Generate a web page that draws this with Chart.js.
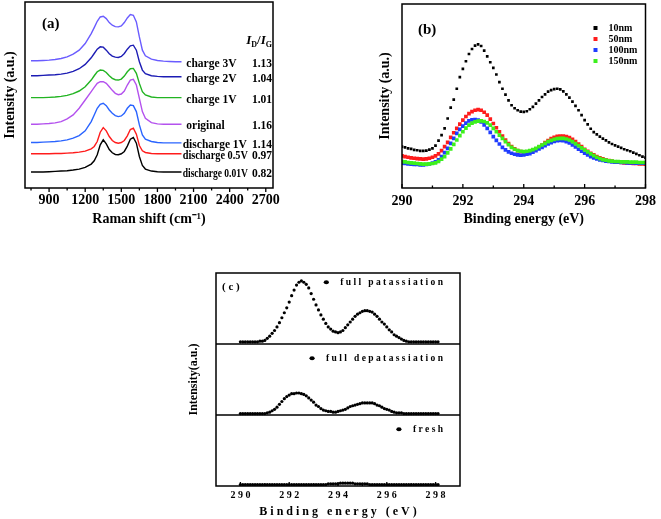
<!DOCTYPE html>
<html>
<head>
<meta charset="utf-8">
<script src="https://cdn.jsdelivr.net/npm/chart.js@4.4.1/dist/chart.umd.min.js"></script>
<style>
  body { margin: 0; background: #fff; }
  canvas { position: absolute; }
</style>
</head>
<body>
<canvas id="chartA" width="330" height="250" style="left:0px;top:0px"></canvas>
<canvas id="chartB" width="331" height="250" style="left:330px;top:0px"></canvas>
<canvas id="chartC" width="300" height="269" style="left:180px;top:250px"></canvas>
<script>
// ---- (a) Raman spectra, curves stacked top to bottom ----
const ramanShift = [750, 800, 850, 900, 950, 1000, 1050, 1100, 1150, 1200, 1250,
  1275, 1300, 1325, 1350, 1375, 1400, 1425, 1450, 1475, 1500, 1525, 1550, 1575, 1600, 1625, 1650, 1675, 1700,
  1750, 1800, 1850, 1900, 1950, 2000];
const ramanTicks = [900, 1200, 1500, 1800, 2100, 2400, 2700];
const stateNames = ['charge 3V', 'charge 2V', 'charge 1V', 'original', 'discharge 1V', 'discharge 0.5V', 'discharge 0.01V'];
const idIg = ['1.13', '1.04', '1.01', '1.16', '1.14', '0.97', '0.82'];

const charge3V = [383, 383, 384, 385, 387, 390, 395, 403, 415, 435, 465,
  483, 502, 515, 517, 510, 498, 490, 486, 485, 488, 498, 512, 522, 520, 500, 455, 415, 398,
  388, 384, 382, 381, 380, 380];
const charge2V = [338, 338, 339, 340, 341, 343, 346, 351, 359, 372, 392,
  405, 418, 425, 424, 415, 404, 397, 394, 393, 396, 405, 418, 428, 430, 415, 380, 355, 344,
  338, 336, 335, 335, 335, 335];
const charge1V = [272, 272, 272, 273, 274, 276, 279, 284, 292, 305, 325,
  338, 350, 355, 354, 348, 338, 330, 326, 325, 328, 337, 350, 359, 360, 345, 315, 290, 280,
  274, 272, 272, 272, 272, 272];
const original = [192, 192, 193, 194, 196, 200, 208, 220, 240, 265, 290,
  303, 315, 320, 320, 315, 305, 294, 285, 281, 283, 292, 310, 325, 327, 310, 270, 230, 210,
  197, 193, 192, 192, 192, 192];
const discharge1V = [137, 137, 138, 139, 140, 142, 145, 150, 158, 172, 200,
  220, 240, 252, 255, 248, 235, 225, 218, 215, 217, 225, 240, 250, 248, 230, 190, 160, 147,
  140, 137, 136, 136, 136, 136];
const discharge05V = [103, 103, 103, 103, 104, 104, 105, 106, 108, 111, 118,
  125, 140, 168, 182, 172, 155, 143, 137, 135, 137, 143, 157, 176, 180, 162, 128, 112, 107,
  104, 103, 103, 103, 103, 103];
const discharge001V = [48, 48, 48, 49, 50, 51, 52, 54, 57, 62, 72,
  82, 100, 130, 145, 133, 116, 106, 101, 100, 103, 110, 126, 147, 152, 135, 95, 68, 57,
  51, 49, 48, 48, 48, 48];
const ramanSeries = [charge3V, charge2V, charge1V, original, discharge1V, discharge05V, discharge001V];
const ramanColors = ['#6a5cff', '#1c1cb4', '#22b422', '#b452ee', '#2a64ff', '#ff1c1c', '#000000'];
const labelStart = [2040, 2040, 2040, 2040, 2010, 2010, 2010];

// ---- (b) C 1s XPS, four thicknesses ----
const energyB = [290.0, 290.1, 290.2, 290.3, 290.4, 290.5, 290.6, 290.7, 290.8, 290.9,
  291.0, 291.1, 291.2, 291.3, 291.4, 291.5, 291.6, 291.7, 291.8, 291.9,
  292.0, 292.1, 292.2, 292.3, 292.4, 292.5, 292.6, 292.7, 292.8, 292.9,
  293.0, 293.1, 293.2, 293.3, 293.4, 293.5, 293.6, 293.7, 293.8, 293.9,
  294.0, 294.1, 294.2, 294.3, 294.4, 294.5, 294.6, 294.7, 294.8, 294.9,
  295.0, 295.1, 295.2, 295.3, 295.4, 295.5, 295.6, 295.7, 295.8, 295.9,
  296.0, 296.1, 296.2, 296.3, 296.4, 296.5, 296.6, 296.7, 296.8, 296.9,
  297.0, 297.1, 297.2, 297.3, 297.4, 297.5, 297.6, 297.7, 297.8, 297.9,
  298.0];
const energyTicks = [290, 292, 294, 296, 298];
const sizeNames = ['10nm', '50nm', '100nm', '150nm'];
const nm10 = [125, 123, 120, 118, 115, 114, 112, 112, 113, 116,
  120, 128, 143, 160, 180, 210, 243, 267, 300, 335,
  360, 383, 405, 420, 430, 434, 429, 415, 398, 380,
  363, 343, 320, 300, 282, 265, 250, 241, 235, 231,
  230, 232, 238, 245, 255, 265, 275, 283, 291, 296,
  299, 300, 298, 292, 283, 273, 261, 248, 235, 220,
  205, 192, 179, 169, 162, 155, 149, 144, 138, 133,
  129, 125, 121, 117, 114, 111, 107, 103, 99, 95,
  92];
const nm50 = [97, 95, 93, 91, 90, 89, 88, 87, 88, 90,
  93, 97, 103, 113, 125, 138, 153, 167, 180, 193,
  205, 216, 225, 231, 235, 237, 235, 229, 220, 208,
  195, 182, 170, 157, 145, 134, 125, 118, 113, 110,
  108, 108, 110, 114, 118, 124, 130, 137, 143, 149,
  153, 156, 157, 157, 155, 152, 147, 140, 133, 125,
  117, 111, 105, 100, 95, 91, 88, 85, 83, 81,
  79, 78, 77, 76, 76, 75, 74, 74, 73, 73,
  72];
const nm100 = [75, 74, 73, 72, 71, 71, 70, 70, 71, 73,
  75, 79, 85, 95, 107, 120, 135, 150, 165, 177,
  187, 196, 203, 206, 207, 205, 200, 191, 180, 168,
  155, 144, 133, 123, 115, 109, 105, 102, 100, 99,
  100, 102, 104, 108, 113, 118, 123, 128, 133, 137,
  141, 143, 144, 143, 140, 136, 130, 124, 117, 111,
  105, 100, 95, 91, 88, 85, 83, 81, 80, 79,
  78, 78, 77, 77, 76, 76, 76, 75, 75, 75,
  75];
const nm150 = [80, 79, 77, 76, 75, 74, 73, 72, 72, 73,
  74, 76, 80, 87, 95, 106, 118, 132, 145, 158,
  170, 181, 190, 196, 200, 202, 203, 201, 197, 190,
  180, 170, 160, 150, 140, 131, 123, 117, 113, 111,
  110, 111, 113, 116, 120, 125, 130, 135, 140, 144,
  147, 149, 150, 150, 148, 145, 140, 134, 128, 121,
  115, 109, 103, 98, 93, 89, 86, 84, 82, 81,
  80, 80, 79, 79, 79, 78, 78, 78, 77, 77,
  77];
const sizeSeries = [nm10, nm50, nm100, nm150];
const sizeColors = ['#000000', '#ff1c1c', '#1f3cff', '#3cf01c'];

// ---- (c) C 1s XPS, three states, each panel 0..100 ----
const energyC = [290.0, 290.1, 290.2, 290.3, 290.4, 290.5, 290.6, 290.7, 290.8, 290.9,
  291.0, 291.1, 291.2, 291.3, 291.4, 291.5, 291.6, 291.7, 291.8, 291.9,
  292.0, 292.1, 292.2, 292.3, 292.4, 292.5, 292.6, 292.7, 292.8, 292.9,
  293.0, 293.1, 293.2, 293.3, 293.4, 293.5, 293.6, 293.7, 293.8, 293.9,
  294.0, 294.1, 294.2, 294.3, 294.4, 294.5, 294.6, 294.7, 294.8, 294.9,
  295.0, 295.1, 295.2, 295.3, 295.4, 295.5, 295.6, 295.7, 295.8, 295.9,
  296.0, 296.1, 296.2, 296.3, 296.4, 296.5, 296.6, 296.7, 296.8, 296.9,
  297.0, 297.1, 297.2, 297.3, 297.4, 297.5, 297.6, 297.7, 297.8, 297.9,
  298.0, 298.1];
const phaseNames = ['full patassiation', 'full depatassiation', 'fresh'];
const fullPot = [3, 3, 3, 3, 3, 3, 3, 3, 4, 4,
  5, 8, 11, 15, 19, 24, 30, 37, 44, 51,
  59, 68, 76, 83, 87, 89, 87, 84, 79, 71,
  63, 55, 48, 41, 35, 29, 24, 21, 18, 17,
  16, 17, 19, 23, 27, 31, 35, 39, 42, 44,
  46, 47, 47, 46, 45, 42, 39, 35, 31, 28,
  24, 20, 17, 13, 11, 9, 7, 5, 4, 3,
  3, 3, 3, 3, 3, 3, 3, 3, 3, 3, 3, 3];
const fullDepot = [2, 2, 2, 2, 2, 2, 2, 2, 2, 2,
  2, 3, 4, 6, 8, 11, 15, 19, 23, 26,
  28, 30, 30, 31, 31, 30, 29, 27, 24, 21,
  18, 14, 12, 9, 7, 6, 5, 5, 4, 4,
  5, 6, 7, 8, 10, 12, 13, 14, 15, 16,
  17, 17, 17, 17, 17, 16, 14, 13, 11, 9,
  8, 7, 5, 4, 3, 3, 3, 2, 2, 2,
  2, 2, 2, 2, 2, 2, 2, 2, 2, 2, 2, 2];
const fresh = [2, 2, 2, 2, 2, 2, 2, 2, 2, 2,
  2, 2, 2, 2, 2, 2, 2, 2, 2, 2,
  2, 2, 2, 2, 2, 2, 2, 2, 2, 2,
  2, 2, 2, 2, 2, 2, 3, 3, 3, 3,
  3, 4, 4, 4, 4, 4, 4, 3, 3, 3,
  3, 3, 3, 2, 2, 2, 2, 2, 2, 2,
  2, 2, 2, 2, 2, 2, 2, 2, 2, 2,
  2, 2, 2, 2, 2, 2, 2, 2, 2, 2, 2, 2];
const phaseSeries = [fullPot, fullDepot, fresh];
const panelBase = [200, 100, 0];

const SERIF = '"Liberation Serif", "Times New Roman", serif';
Chart.defaults.font.family = SERIF;
Chart.defaults.font.weight = 'bold';
Chart.defaults.color = '#000';
Chart.defaults.animation = false;

const spaced = s => s.split('').join(' ');

function pairs(xs, ys, base) {
  return ys.map((v, i) => ({ x: xs[i], y: v + (base || 0) }));
}

// box round the plot area, tick marks, panel dividers
const framePlugin = {
  id: 'frame',
  afterDatasetsDraw(chart, args, opts) {
    const { ctx, chartArea: a } = chart;
    const x = chart.scales.x, y = chart.scales.y;
    ctx.save();
    ctx.strokeStyle = '#000';
    ctx.lineWidth = 1.5;
    ctx.strokeRect(a.left, a.top, a.right - a.left, a.bottom - a.top);
    ctx.lineWidth = 1.3;
    ctx.beginPath();
    (opts.major || []).forEach(v => {
      const px = x.getPixelForValue(v);
      ctx.moveTo(px, a.bottom); ctx.lineTo(px, a.bottom + opts.dir * 4);
    });
    (opts.minor || []).forEach(v => {
      const px = x.getPixelForValue(v);
      ctx.moveTo(px, a.bottom); ctx.lineTo(px, a.bottom + opts.dir * 2.5);
    });
    (opts.dividers || []).forEach(v => {
      const py = y.getPixelForValue(v);
      ctx.moveTo(a.left, py); ctx.lineTo(a.right, py);
    });
    ctx.stroke();
    ctx.restore();
  }
};

function xScale(min, max, ticks, font, fmt, title, titleFont, pad) {
  return {
    type: 'linear', min: min, max: max,
    afterBuildTicks: s => { s.ticks = ticks.map(v => ({ value: v })); },
    afterFit: s => { s.height = pad.h; },
    grid: { display: false, drawTicks: false },
    border: { display: false },
    ticks: { font: font, padding: pad.tick, maxRotation: 0, autoSkip: false, callback: fmt },
    title: { display: true, text: title, font: titleFont, padding: { top: 0, bottom: pad.title } }
  };
}

function yScale(min, max, width, title, titleFont, padTop) {
  return {
    type: 'linear', min: min, max: max,
    afterFit: s => { s.width = width; },
    grid: { display: false, drawTicks: false },
    border: { display: false },
    ticks: { display: false },
    title: { display: true, text: title, font: titleFont, padding: { top: padTop, bottom: 0 } }
  };
}

// (a)
const ramanText = {
  id: 'ramanText',
  afterDatasetsDraw(chart) {
    const { ctx, chartArea: a } = chart;
    const x = chart.scales.x, y = chart.scales.y;
    ctx.save();
    ctx.fillStyle = '#000';
    ctx.textBaseline = 'middle';
    ctx.font = 'bold 11.5px ' + SERIF;
    stateNames.forEach((name, i) => {
      const ys = ramanSeries[i];
      const py = y.getPixelForValue(ys[ys.length - 1]) + 2;
      const right = a.right - 1;
      ctx.textAlign = 'right';
      ctx.fillText(idIg[i], right, py);
      const numLeft = right - ctx.measureText(idIg[i]).width;
      const lx = x.getPixelForValue(labelStart[i]);
      ctx.textAlign = 'left';
      ctx.fillText(name, lx, py, numLeft - 4 - lx);
    });
    // I_D / I_G header
    ctx.textAlign = 'left';
    ctx.textBaseline = 'alphabetic';
    const parts = [['I', 'italic bold 13px', 0], ['D', 'bold 8px', 3], ['/', 'bold 13px', 0],
                   ['I', 'italic bold 13px', 0], ['G', 'bold 8px', 3]];
    let w = 0;
    parts.forEach(p => { ctx.font = p[1] + ' ' + SERIF; w += ctx.measureText(p[0]).width; });
    let px = a.right - 1 - w;
    parts.forEach(p => {
      ctx.font = p[1] + ' ' + SERIF;
      ctx.fillText(p[0], px, 44 + p[2]);
      px += ctx.measureText(p[0]).width;
    });
    ctx.font = 'bold 15px ' + SERIF;
    ctx.fillText('(a)', 42, 28);
    ctx.restore();
  }
};

new Chart(document.getElementById('chartA'), {
  type: 'line',
  data: {
    datasets: ramanSeries.map((ys, i) => ({
      label: stateNames[i],
      data: pairs(ramanShift, ys),
      borderColor: ramanColors[i],
      borderWidth: 1.4,
      pointRadius: 0,
      tension: 0
    }))
  },
  options: {
    responsive: false,
    layout: { padding: { left: 0, top: 2, right: 57, bottom: 0 } },
    scales: {
      x: xScale(700, 2760, ramanTicks, { size: 14, weight: 'bold' }, v => String(v),
        'Raman shift (cm\u207B\u00B9)', { size: 14, weight: 'bold' }, { h: 62, tick: 4, title: 22 }),
      y: yScale(0, 560, 25, 'Intensity (a.u.)', { size: 14, weight: 'bold' }, 2)
    },
    plugins: {
      legend: { display: false },
      tooltip: { enabled: false },
      frame: { dir: 1, major: ramanTicks, minor: [750, 1050, 1350, 1650, 1950, 2250, 2550] }
    }
  },
  plugins: [framePlugin, ramanText]
});

// (b)
const sizeLegend = {
  id: 'sizeLegend',
  afterDatasetsDraw(chart) {
    const { ctx, chartArea: a } = chart;
    ctx.save();
    ctx.textBaseline = 'middle';
    ctx.textAlign = 'left';
    ctx.font = 'bold 10px ' + SERIF;
    chart.data.datasets.forEach((ds, i) => {
      const yy = a.top + 24 + i * 11;
      ctx.fillStyle = ds.backgroundColor;
      ctx.fillRect(a.right - 52, yy - 2, 4, 4);
      ctx.fillStyle = '#000';
      ctx.fillText(ds.label, a.right - 37, yy);
    });
    ctx.font = 'bold 15px ' + SERIF;
    ctx.fillText('(b)', a.left + 16, 30);
    ctx.restore();
  }
};

new Chart(document.getElementById('chartB'), {
  type: 'scatter',
  data: {
    datasets: sizeSeries.map((ys, i) => ({
      label: sizeNames[i],
      data: pairs(energyB, ys),
      backgroundColor: sizeColors[i],
      borderWidth: 0,
      pointStyle: 'rect',
      pointRadius: i === 0 ? 1.9 : 2.6,
      order: 3 - i
    }))
  },
  options: {
    responsive: false,
    layout: { padding: { left: 45, top: 3, right: 13, bottom: 0 } },
    scales: {
      x: xScale(290, 298, energyTicks, { size: 14, weight: 'bold' }, v => String(v),
        'Binding energy (eV)', { size: 14, weight: 'bold' }, { h: 62, tick: 5, title: 22 }),
      y: yScale(0, 556, 27, 'Intensity (a.u.)', { size: 14, weight: 'bold' }, 2)
    },
    plugins: {
      legend: { display: false },
      tooltip: { enabled: false },
      frame: { dir: -1, major: energyTicks, minor: [291, 293, 295, 297] }
    }
  },
  plugins: [framePlugin, sizeLegend]
});

// (c)
const phaseText = {
  id: 'phaseText',
  afterDatasetsDraw(chart) {
    const { ctx, chartArea: a } = chart;
    const y = chart.scales.y;
    const legendY = [287, 180, 80];
    ctx.save();
    ctx.fillStyle = '#000';
    ctx.textBaseline = 'middle';
    ctx.font = 'bold 9.5px ' + SERIF;
    phaseNames.forEach((name, i) => {
      const text = spaced(name);
      const py = y.getPixelForValue(legendY[i]);
      ctx.textAlign = 'right';
      ctx.fillText(text, a.right - 17, py);
      const start = a.right - 17 - ctx.measureText(text).width;
      ctx.beginPath();
      ctx.ellipse(start - 14, py, 2.6, 2, 0, 0, Math.PI * 2);
      ctx.fill();
    });
    ctx.textAlign = 'left';
    ctx.font = 'bold 11px ' + SERIF;
    ctx.fillText(spaced('(c)'), a.left + 6, a.top + 14);
    ctx.restore();
  }
};

new Chart(document.getElementById('chartC'), {
  type: 'scatter',
  data: {
    datasets: phaseSeries.map((ys, i) => ({
      label: phaseNames[i],
      data: pairs(energyC, ys, panelBase[i]),
      backgroundColor: '#000',
      borderWidth: 0,
      pointStyle: 'circle',
      pointRadius: 1.6
    }))
  },
  options: {
    responsive: false,
    layout: { padding: { left: 0, top: 23, right: 20, bottom: 0 } },
    scales: {
      x: xScale(289, 299, energyTicks, { size: 10, weight: 'bold' }, v => spaced(String(v)),
        spaced('Binding energy (eV)'), { size: 12, weight: 'bold' }, { h: 33, tick: 3, title: 0 }),
      y: yScale(0, 300, 36, 'Intensity(a.u.)', { size: 12, weight: 'bold' }, 7)
    },
    plugins: {
      legend: { display: false },
      tooltip: { enabled: false },
      frame: { dir: -1, major: energyTicks, minor: [291, 293, 295, 297], dividers: [100, 200] }
    }
  },
  plugins: [framePlugin, phaseText]
});
</script>
</body>
</html>
